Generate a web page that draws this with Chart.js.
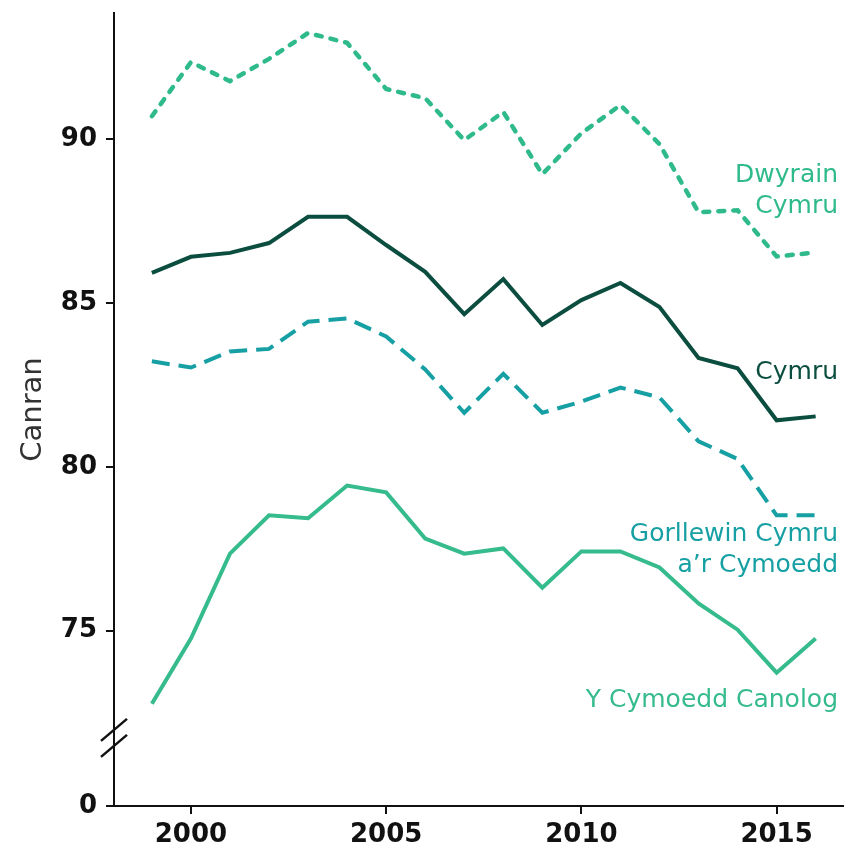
<!DOCTYPE html>
<html>
<head>
<meta charset="utf-8">
<script src="https://cdn.jsdelivr.net/npm/chart.js@4.4.1/dist/chart.umd.min.js"></script>
<style>
  html, body { margin: 0; padding: 0; background: #fff; }
  #wrap { width: 846px; height: 849px; position: relative; }
</style>
</head>
<body>
<div id="wrap"><canvas id="lineChart"></canvas></div>
<script>
// blynyddoedd a chanrannau
const years = [1999, 2000, 2001, 2002, 2003, 2004, 2005, 2006, 2007, 2008,
  2009, 2010, 2011, 2012, 2013, 2014, 2015, 2016];
const dwyrainCymru = [90.7, 92.35, 91.77, 92.45, 93.24, 92.94, 91.53, 91.25,
  89.97, 90.83, 88.93, 90.18, 91.04, 89.85, 87.77, 87.83, 86.42, 86.54];
const cymru = [85.92, 86.41, 86.53, 86.83, 87.63, 87.63, 86.77, 85.95, 84.66,
  85.73, 84.33, 85.09, 85.61, 84.88, 83.32, 83.01, 81.42, 81.54];
const gorllewin = [83.22, 83.03, 83.52, 83.6, 84.43, 84.53, 83.98, 82.97,
  81.65, 82.84, 81.65, 81.99, 82.42, 82.12, 80.78, 80.24, 78.52, 78.52];
const cymoeddCanolog = [72.77, 74.76, 77.35, 78.52, 78.43, 79.43, 79.22,
  77.81, 77.35, 77.51, 76.31, 77.42, 77.42, 76.93, 75.83, 75.03, 73.72, 74.76];
const yTicks = [75, 80, 85, 90];
const xTicks = [2000, 2005, 2010, 2015];
const seriesNames = ['Dwyrain Cymru', 'Cymru', 'Gorllewin Cymru a’r Cymoedd', 'Y Cymoedd Canolog'];

const FONT = '"DejaVu Sans", "Open Sans", sans-serif';
const yZero = 69.65;   // lle mae "0" yn eistedd ar yr echel sydd wedi'i thorri
const yBreak = 71.73;

const cLight = '#2fba8c';
const cDark = '#0b4e3f';
const cTeal = '#17a0a3';
const cMid = '#35bb8c';

function toPts(arr) {
  return arr.map((v, i) => ({ x: years[i], y: v }));
}

// labeli'r llinellau a thoriad yr echel
const extras = {
  id: 'extras',
  afterDraw(chart) {
    const ctx = chart.ctx;
    const y = chart.scales.y;
    const ax = chart.chartArea.left;
    const by = y.getPixelForValue(yBreak);
    ctx.save();
    ctx.strokeStyle = '#111';
    ctx.lineWidth = 2.5;
    [-8, 8].forEach(off => {
      ctx.beginPath();
      ctx.moveTo(ax - 13, by + off + 11);
      ctx.lineTo(ax + 13, by + off - 11);
      ctx.stroke();
    });

    ctx.font = '25px ' + FONT;
    ctx.textAlign = 'right';
    ctx.textBaseline = 'middle';
    const rx = 838;
    const labels = [
      { lines: ['Dwyrain', 'Cymru'], v: 88.9, color: cLight },
      { lines: ['Cymru'], v: 82.89, color: cDark },
      { lines: ['Gorllewin Cymru', 'a’r Cymoedd'], v: 77.95, color: cTeal },
      { lines: ['Y Cymoedd Canolog'], v: 72.86, color: cMid }
    ];
    labels.forEach(l => {
      const py = y.getPixelForValue(l.v);
      ctx.fillStyle = l.color;
      l.lines.forEach((t, i) => ctx.fillText(t, rx, py + i * 31.5));
    });
    ctx.restore();
  }
};

const lineChart = new Chart(document.getElementById('lineChart').getContext('2d'), {
  type: 'line',
  data: {
    datasets: [
      { label: seriesNames[0], data: toPts(dwyrainCymru), borderColor: cLight,
        borderWidth: 4.5, borderDash: [6, 9], borderCapStyle: 'round', pointRadius: 0 },
      { label: seriesNames[1], data: toPts(cymru), borderColor: cDark,
        borderWidth: 4, pointRadius: 0 },
      { label: seriesNames[2], data: toPts(gorllewin), borderColor: cTeal,
        borderWidth: 4, borderDash: [18, 9], pointRadius: 0 },
      { label: seriesNames[3], data: toPts(cymoeddCanolog), borderColor: cMid,
        borderWidth: 4, pointRadius: 0 }
    ]
  },
  options: {
    responsive: true,
    maintainAspectRatio: false,
    animation: false,
    layout: { padding: { top: 13, right: 3, bottom: 0 } },
    plugins: { legend: false, tooltip: { enabled: false } },
    scales: {
      x: {
        type: 'linear',
        min: 1998.03,
        max: 2016.7,
        afterBuildTicks(s) { s.ticks = xTicks.map(v => ({ value: v })); },
        afterFit(s) { s.height = 43; s.paddingLeft = 0; s.paddingRight = 0; },
        grid: { drawOnChartArea: false, drawTicks: true, tickLength: 8, color: '#111', lineWidth: 2 },
        border: { display: true, color: '#111', width: 2 },
        ticks: {
          padding: 6,
          color: '#111',
          font: { family: FONT, size: 26, weight: 'bold' },
          callback: v => String(v)
        }
      },
      y: {
        type: 'linear',
        min: yZero,
        max: 93.85,
        afterBuildTicks(s) { s.ticks = [yZero].concat(yTicks).map(v => ({ value: v })); },
        afterFit(s) { s.width = 114; s.paddingTop = 0; s.paddingBottom = 0; },
        grid: { drawOnChartArea: false, drawTicks: true, tickLength: 8, color: '#111', lineWidth: 2 },
        border: { display: true, color: '#111', width: 2 },
        title: {
          display: true,
          text: 'Canran',
          color: '#333',
          font: { family: FONT, size: 29, weight: 'normal' },
          padding: { top: 16, bottom: 0 }
        },
        ticks: {
          padding: 9,
          color: '#111',
          font: { family: FONT, size: 26, weight: 'bold' },
          callback: v => (v === yZero ? '0' : String(v))
        }
      }
    }
  },
  plugins: [extras]
});
</script>
</body>
</html>
